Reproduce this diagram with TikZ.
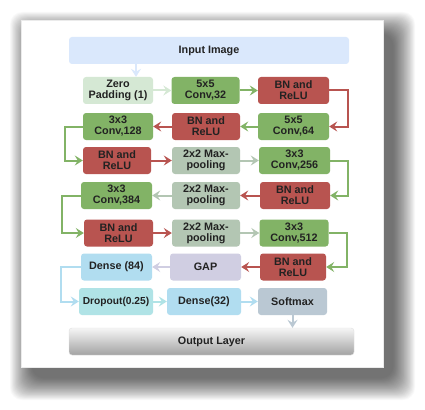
\documentclass[tikz,border=0pt]{standalone}
\usepackage{fontspec}
\setmainfont{Liberation Sans}
\usetikzlibrary{arrows.meta,calc}
\definecolor{cin}{HTML}{DAE8FC}
\definecolor{czp}{HTML}{D5E8D4}
\definecolor{cgr}{HTML}{82B366}
\definecolor{crd}{HTML}{B85450}
\definecolor{cmp}{HTML}{B3C6B3}
\definecolor{cgap}{HTML}{D0CEE2}
\definecolor{cdn}{HTML}{B1DDF0}
\definecolor{cdr}{HTML}{B0E3E6}
\definecolor{csm}{HTML}{BAC8D3}
\definecolor{ctxt}{HTML}{222222}
\begin{document}
\begin{tikzpicture}[x=1pt,y=-1pt,
  box/.style={rounded corners=3pt, minimum height=27pt, minimum width=70pt,
    inner sep=1pt, align=center, text=ctxt,
    font=\fontsize{10.8}{11}\selectfont\bfseries},
  zpbox/.style={box, fill=czp},
  grbox/.style={box, fill=cgr},
  rdbox/.style={box, fill=crd},
  mpbox/.style={box, fill=cmp},
  arr/.style={line width=2pt, -{Stealth[length=8pt,width=10pt,inset=3pt]}},
  ]
\useasboundingbox (0,0) rectangle (425,409);
\fill[white] (0,0) rectangle (425,409);
% shadow
\foreach \i in {0,...,29}{
  \fill[black, opacity=0.022, rounded corners=12pt]
    ({32-22+0.75*\i},{34-22+0.75*\i}) rectangle ({393+22-0.75*\i},{378+22-0.75*\i});
}
\fill[white] (21,20) rectangle (383,367);
\draw[black!8, line width=0.4pt] (21,20) rectangle (383,367);

% nodes
\node[box, fill=cin, minimum width=280pt] (inp) at (209,50.5) {Input Image};
\node[zpbox] (zp) at (118,90.5) {Zero\\Padding (1)};
\node[grbox, minimum width=68pt] (c1) at (205.5,90.5) {5x5\\Conv,32};
\node[rdbox, minimum width=71pt] (b1) at (293.5,90.5) {BN and\\ReLU};

\node[grbox] (c3) at (118,126.5) {3x3\\Conv,128};
\node[rdbox, minimum width=68pt] (b2) at (206,126.5) {BN and\\ReLU};
\node[grbox, minimum width=71pt] (c2) at (293.5,126.5) {5x5\\Conv,64};

\node[rdbox, minimum width=68pt] (b3) at (117,160.5) {BN and\\ReLU};
\node[mpbox, minimum width=68pt] (m1) at (206,160.5) {2x2 Max-\\pooling};
\node[grbox, minimum width=71pt] (c4) at (294.5,160.5) {3x3\\Conv,256};

\node[grbox, minimum width=71pt] (c5) at (116.5,195.5) {3x3\\Conv,384};
\node[mpbox, minimum width=68pt] (m2) at (206,195.5) {2x2 Max-\\pooling};
\node[rdbox] (b4) at (295,195.5) {BN and\\ReLU};

\node[rdbox, minimum width=69pt] (b5) at (118.5,233) {BN and\\ReLU};
\node[mpbox, minimum width=68pt] (m3) at (206,233) {2x2 Max-\\pooling};
\node[grbox, minimum width=69pt] (c6) at (294,233) {3x3\\Conv,512};

\node[box, fill=cdn, minimum width=71pt] (d1) at (116.5,267) {Dense (84)};
\node[box, fill=cgap, minimum width=71pt] (gap) at (205.5,267) {GAP};
\node[rdbox, minimum width=66pt] (b6) at (293,267) {BN and\\ReLU};

\node[box, fill=cdr, minimum width=74pt, font=\fontsize{10.2}{11}\selectfont\bfseries] (dr) at (116,301.5) {Dropout(0.25)};
\node[box, fill=cdn, minimum width=74pt] (d2) at (204,301.5) {Dense(32)};
\node[box, fill=csm, minimum width=69pt] (sm) at (292.5,301.5) {Softmax};

\node[box, minimum width=285pt, top color=black!4, bottom color=black!36, draw=black!12, line width=0.4pt] (out) at (211.5,341.5) {Output Layer};

% connectors
\coordinate (ix) at (136,0);
\draw[arr, cin] (inp.south -| ix) -- (zp.north -| ix);
\draw[arr, czp] (zp) -- (c1);
\draw[arr, cgr] (c1) -- (b1);
\draw[arr, crd] (b1.east) -- ++(19,0) |- (c2.east);
\draw[arr, cgr] (c2) -- (b2);
\draw[arr, crd] (b2) -- (c3);
\draw[arr, cgr] (c3.west) -- ++(-18,0) |- (b3.west);
\draw[arr, crd] (b3) -- (m1);
\draw[arr, cmp] (m1) -- (c4);
\draw[arr, cgr] (c4.east) -- ++(18,0) |- (b4.east);
\draw[arr, crd] (b4) -- (m2);
\draw[arr, cmp] (m2) -- (c5);
\draw[arr, cgr] (c5.west) -- ++(-18.5,0) |- (b5.west);
\draw[arr, crd] (b5) -- (m3);
\draw[arr, cmp] (m3) -- (c6);
\draw[arr, cgr] (c6.east) -- ++(18.5,0) |- (b6.east);
\draw[arr, crd] (b6) -- (gap);
\draw[arr, cgap] (gap) -- (d1);
\draw[arr, cdn] (d1.west) -- ++(-19.5,0) |- (dr.west);
\draw[arr, cdr] (dr) -- (d2);
\draw[arr, cdn] (d2) -- (sm);
\draw[arr, csm] (sm.south) -- (out.north -| sm.south);
\end{tikzpicture}
\end{document}
